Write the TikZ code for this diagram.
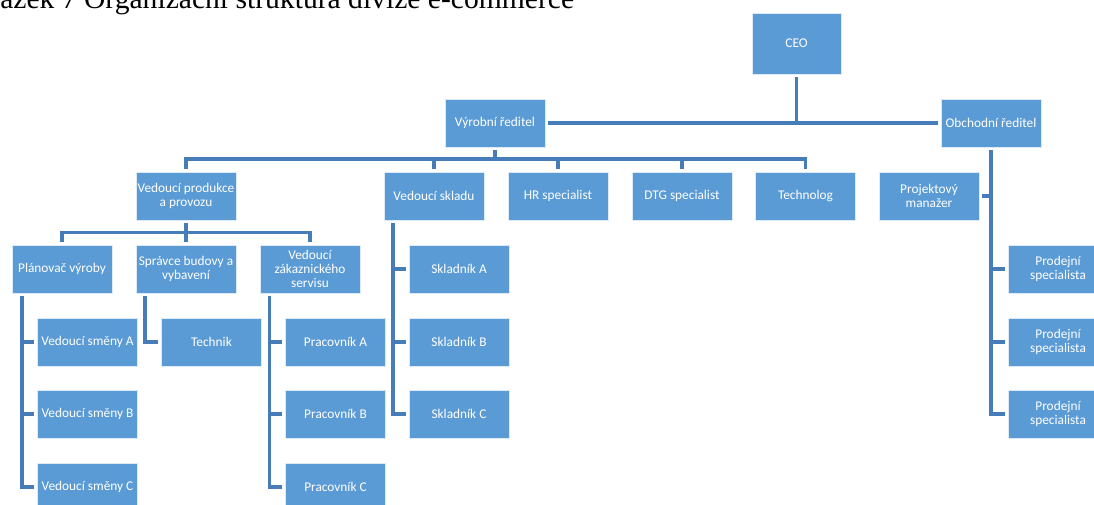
\documentclass[tikz,border=0pt]{standalone}
\usepackage{fontspec}
\setmainfont{Carlito}
\newfontfamily\titleserif{Liberation Serif}
\usetikzlibrary{calc}
\definecolor{boxblue}{RGB}{91,155,213}
\definecolor{lineblue}{RGB}{70,124,184}
\begin{document}
\begin{tikzpicture}[x=0.75pt,y=-0.75pt,
  box/.style={rectangle, fill=boxblue, draw=white!80!boxblue, line width=0.6pt,
    minimum width=75pt, minimum height=36pt, inner sep=0.5pt, outer sep=2.4pt,
    text=white, align=center, font=\fontsize{10}{10.7}\selectfont},
  conn/.style={draw=lineblue, line width=2.4pt}]
\useasboundingbox (0,0) rectangle (1094,505);
\clip (0,0) rectangle (1094,505);
% title
\node[anchor=base west, inner sep=0, font=\titleserif\fontsize{22.2}{24}\selectfont] (title) at (0,9) {ázek 7 Organizační struktura divize e-commerce};
% boxes
\node[box, minimum width=66.75pt, minimum height=45.75pt] (ceo) at (796.5,43.5) {CEO};
\node[box] (vyr) at (495,123) {Výrobní ředitel};
\node[box] (obch) at (991,123) {Obchodní ředitel};
\node[box] (prod) at (186,196) {Vedoucí produkce\\a provozu};
\node[box] (skl) at (434,196) {Vedoucí skladu};
\node[box] (hr) at (558,196) {HR specialist};
\node[box] (dtg) at (682,196) {DTG specialist};
\node[box] (tech) at (805.5,196) {Technolog};
\node[box] (proj) at (929,196) {Projektový\\manažer};
\node[box] (plan) at (62,269) {Plánovač výroby};
\node[box] (sprav) at (186,269) {Správce budovy a\\vybavení};
\node[box] (zak) at (310,269) {Vedoucí\\zákaznického\\servisu};
\node[box] (sklA) at (459,269) {Skladník A};
\node[box] (pro1) at (1058,269) {Prodejní\\specialista};
\node[box] (smA) at (87.5,342) {Vedoucí směny A};
\node[box] (technik) at (211.5,342) {Technik};
\node[box] (pracA) at (335.5,342) {Pracovník A};
\node[box] (sklB) at (459,342) {Skladník B};
\node[box] (pro2) at (1058,342) {Prodejní\\specialista};
\node[box] (smB) at (87.5,414) {Vedoucí směny B};
\node[box] (pracB) at (335.5,414) {Pracovník B};
\node[box] (sklC) at (459,414) {Skladník C};
\node[box] (pro3) at (1058,414) {Prodejní\\specialista};
\node[box] (smC) at (87.5,487) {Vedoucí směny C};
\node[box] (pracC) at (335.5,487) {Pracovník C};
% connectors: top level
\draw[conn] (ceo.south) -- (ceo.south |- vyr.east);
\draw[conn] (vyr.east) -- (obch.west);
% Vyrobni reditel bus
\coordinate (b1) at (495,159);
\draw[conn] (vyr.south) -- (b1);
\draw[conn] (prod.north) |- (b1) -| (tech.north);
\draw[conn] (skl.north) -- (skl.north |- b1);
\draw[conn] (hr.north) -- (hr.north |- b1);
\draw[conn] (dtg.north) -- (dtg.north |- b1);
% Obchodni reditel
\draw[conn] (obch.south) |- (pro3.west);
\draw[conn] (proj.east) -- (proj.east -| obch.south);
\draw[conn] (pro1.west) -- (pro1.west -| obch.south);
\draw[conn] (pro2.west) -- (pro2.west -| obch.south);
% Vedouci produkce bus
\coordinate (b2) at ($(prod.south)+(0,9)$);
\draw[conn] (prod.south) -- (b2);
\draw[conn] (plan.north) |- (b2) -| (zak.north);
\draw[conn] (sprav.north) -- (sprav.north |- b2);
% Planovac
\coordinate (pv) at ($(plan.south)+(-40,0)$);
\draw[conn] (pv) |- (smC.west);
\draw[conn] (smA.west) -- (smA.west -| pv);
\draw[conn] (smB.west) -- (smB.west -| pv);
% Spravce
\coordinate (sv) at ($(sprav.south)+(-41,0)$);
\draw[conn] (sv) |- (technik.west);
% Zakaznicky servis
\coordinate (zv) at ($(zak.south)+(-40.5,0)$);
\draw[conn] (zv) |- (pracC.west);
\draw[conn] (pracA.west) -- (pracA.west -| zv);
\draw[conn] (pracB.west) -- (pracB.west -| zv);
% Sklad
\coordinate (kv) at ($(skl.south)+(-41,0)$);
\draw[conn] (kv) |- (sklC.west);
\draw[conn] (sklA.west) -- (sklA.west -| kv);
\draw[conn] (sklB.west) -- (sklB.west -| kv);
\end{tikzpicture}
\end{document}
